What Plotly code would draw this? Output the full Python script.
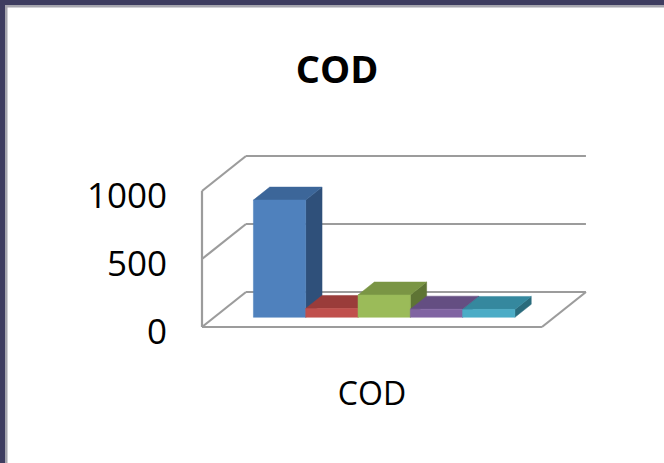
import plotly.graph_objects as go

# Chart data
title_text = "COD"
category = "COD"
series_names = ["Series 1", "Series 2", "Series 3", "Series 4", "Series 5"]
cod_values = [862, 65, 164, 60, 58]
y_ticks = [0, 500, 1000]

# Face colours per series: front, top, right side
front_colors = ["#4f81bd", "#c0504d", "#9bbb59", "#8064a2", "#4bacc6"]
top_colors = ["#3c6699", "#9a3c3a", "#7a9544", "#644e82", "#35889e"]
side_colors = ["#2f507a", "#7a2e2c", "#5e7434", "#4d3b63", "#2a6b7c"]

# Figure geometry (pixels)
W, H = 664, 463
PL, PR, PT, PB = 195, 600, 145, 335   # plot-area edges
X0_PX, Y0_PX = 202, 327               # front-left corner of the floor
PX_PER_X = 52.3                       # pixels per bar width
PX_PER_V = 0.136                      # pixels per value unit

# Oblique depth of the box, in axis units
DEPTH_X = 44 / PX_PER_X
DEPTH_V = 35 / PX_PER_V
GAP = 1.5                              # gap between category edges and bars
CAT_W = len(cod_values) + GAP
F_FRONT, F_BACK = 0.277, 0.648         # bar depth span as fraction of box depth

x_range = [(PL - X0_PX) / PX_PER_X, (PR - X0_PX) / PX_PER_X]
y_range = [(Y0_PX - PB) / PX_PER_V, (Y0_PX - PT) / PX_PER_V]

GRID = "#9c9c9c"
fig = go.Figure()


def seg(xs, ys, color=GRID, width=2.2):
    fig.add_trace(go.Scatter(x=xs, y=ys, mode="lines", hoverinfo="skip",
                             line=dict(color=color, width=width),
                             showlegend=False))


def poly(xs, ys, color, name, val):
    fig.add_trace(go.Scatter(x=xs + [xs[0]], y=ys + [ys[0]], mode="lines",
                             fill="toself", fillcolor=color,
                             line=dict(color=color, width=0.5),
                             name=name, text=f"{name}: {val}",
                             hoverinfo="text", showlegend=False))


# Walls, gridlines and floor
for v in y_ticks:
    seg([0, DEPTH_X], [v, v + DEPTH_V])
    seg([DEPTH_X, CAT_W + DEPTH_X], [v + DEPTH_V, v + DEPTH_V])
seg([0, 0], [0, max(y_ticks)])
seg([0, CAT_W], [0, 0])
seg([CAT_W, CAT_W + DEPTH_X], [0, DEPTH_V])

# 3D columns, drawn left to right so nearer faces overlap
fx, fv = F_FRONT * DEPTH_X, F_FRONT * DEPTH_V
bx, bv = F_BACK * DEPTH_X, F_BACK * DEPTH_V
for i, (name, val) in enumerate(zip(series_names, cod_values)):
    xl = GAP / 2 + i
    xr = xl + 1
    # right side
    poly([xr + fx, xr + bx, xr + bx, xr + fx],
         [fv, bv, bv + val, fv + val], side_colors[i], name, val)
    # top
    poly([xl + fx, xr + fx, xr + bx, xl + bx],
         [fv + val, fv + val, bv + val, bv + val], top_colors[i], name, val)
    # front
    poly([xl + fx, xr + fx, xr + fx, xl + fx],
         [fv, fv, fv + val, fv + val], front_colors[i], name, val)

# Frame around the chart area
def px_x(p):
    return (p - PL) / (PR - PL)


def px_y(p):
    return (PB - p) / (PB - PT)


shapes = [
    dict(type="rect", xref="paper", yref="paper", layer="above",
         x0=px_x(0), x1=px_x(W + 2), y0=px_y(0), y1=px_y(5),
         fillcolor="#3e3d60", line=dict(width=0)),
    dict(type="rect", xref="paper", yref="paper", layer="above",
         x0=px_x(5), x1=px_x(W + 2), y0=px_y(5), y1=px_y(7.5),
         fillcolor="#a6a6ae", line=dict(width=0)),
    dict(type="rect", xref="paper", yref="paper", layer="above",
         x0=px_x(0), x1=px_x(5), y0=px_y(0), y1=px_y(H + 2),
         fillcolor="#3e3d60", line=dict(width=0)),
    dict(type="rect", xref="paper", yref="paper", layer="above",
         x0=px_x(5), x1=px_x(7.5), y0=px_y(5), y1=px_y(H + 2),
         fillcolor="#a6a6ae", line=dict(width=0)),
]

FONT = "Open Sans, Lato, DejaVu Sans, sans-serif"
fig.update_layout(
    width=W, height=H,
    margin=dict(l=PL, r=W - PR, t=PT, b=H - PB, pad=0),
    paper_bgcolor="white", plot_bgcolor="rgba(0,0,0,0)",
    title=dict(text=f"<b>{title_text}</b>", x=337 / W, y=1 - 70 / H,
               xref="container", yref="container",
               xanchor="center", yanchor="middle",
               font=dict(family=FONT, size=38, color="black")),
    xaxis=dict(range=x_range, showgrid=False, zeroline=False, showline=False,
               tickvals=[CAT_W / 2], ticktext=[category], ticks="",
               ticklabelstandoff=37,
               tickfont=dict(family=FONT, size=32, color="black"),
               fixedrange=True),
    yaxis=dict(range=y_range, showgrid=False, zeroline=False, showline=False,
               tickvals=y_ticks, ticktext=[str(t) for t in y_ticks], ticks="",
               ticklabelstandoff=27, ticklabelshift=5,
               tickfont=dict(family=FONT, size=35, color="black"),
               fixedrange=True),
    shapes=shapes,
    showlegend=False,
)

fig.write_html("out.html")
